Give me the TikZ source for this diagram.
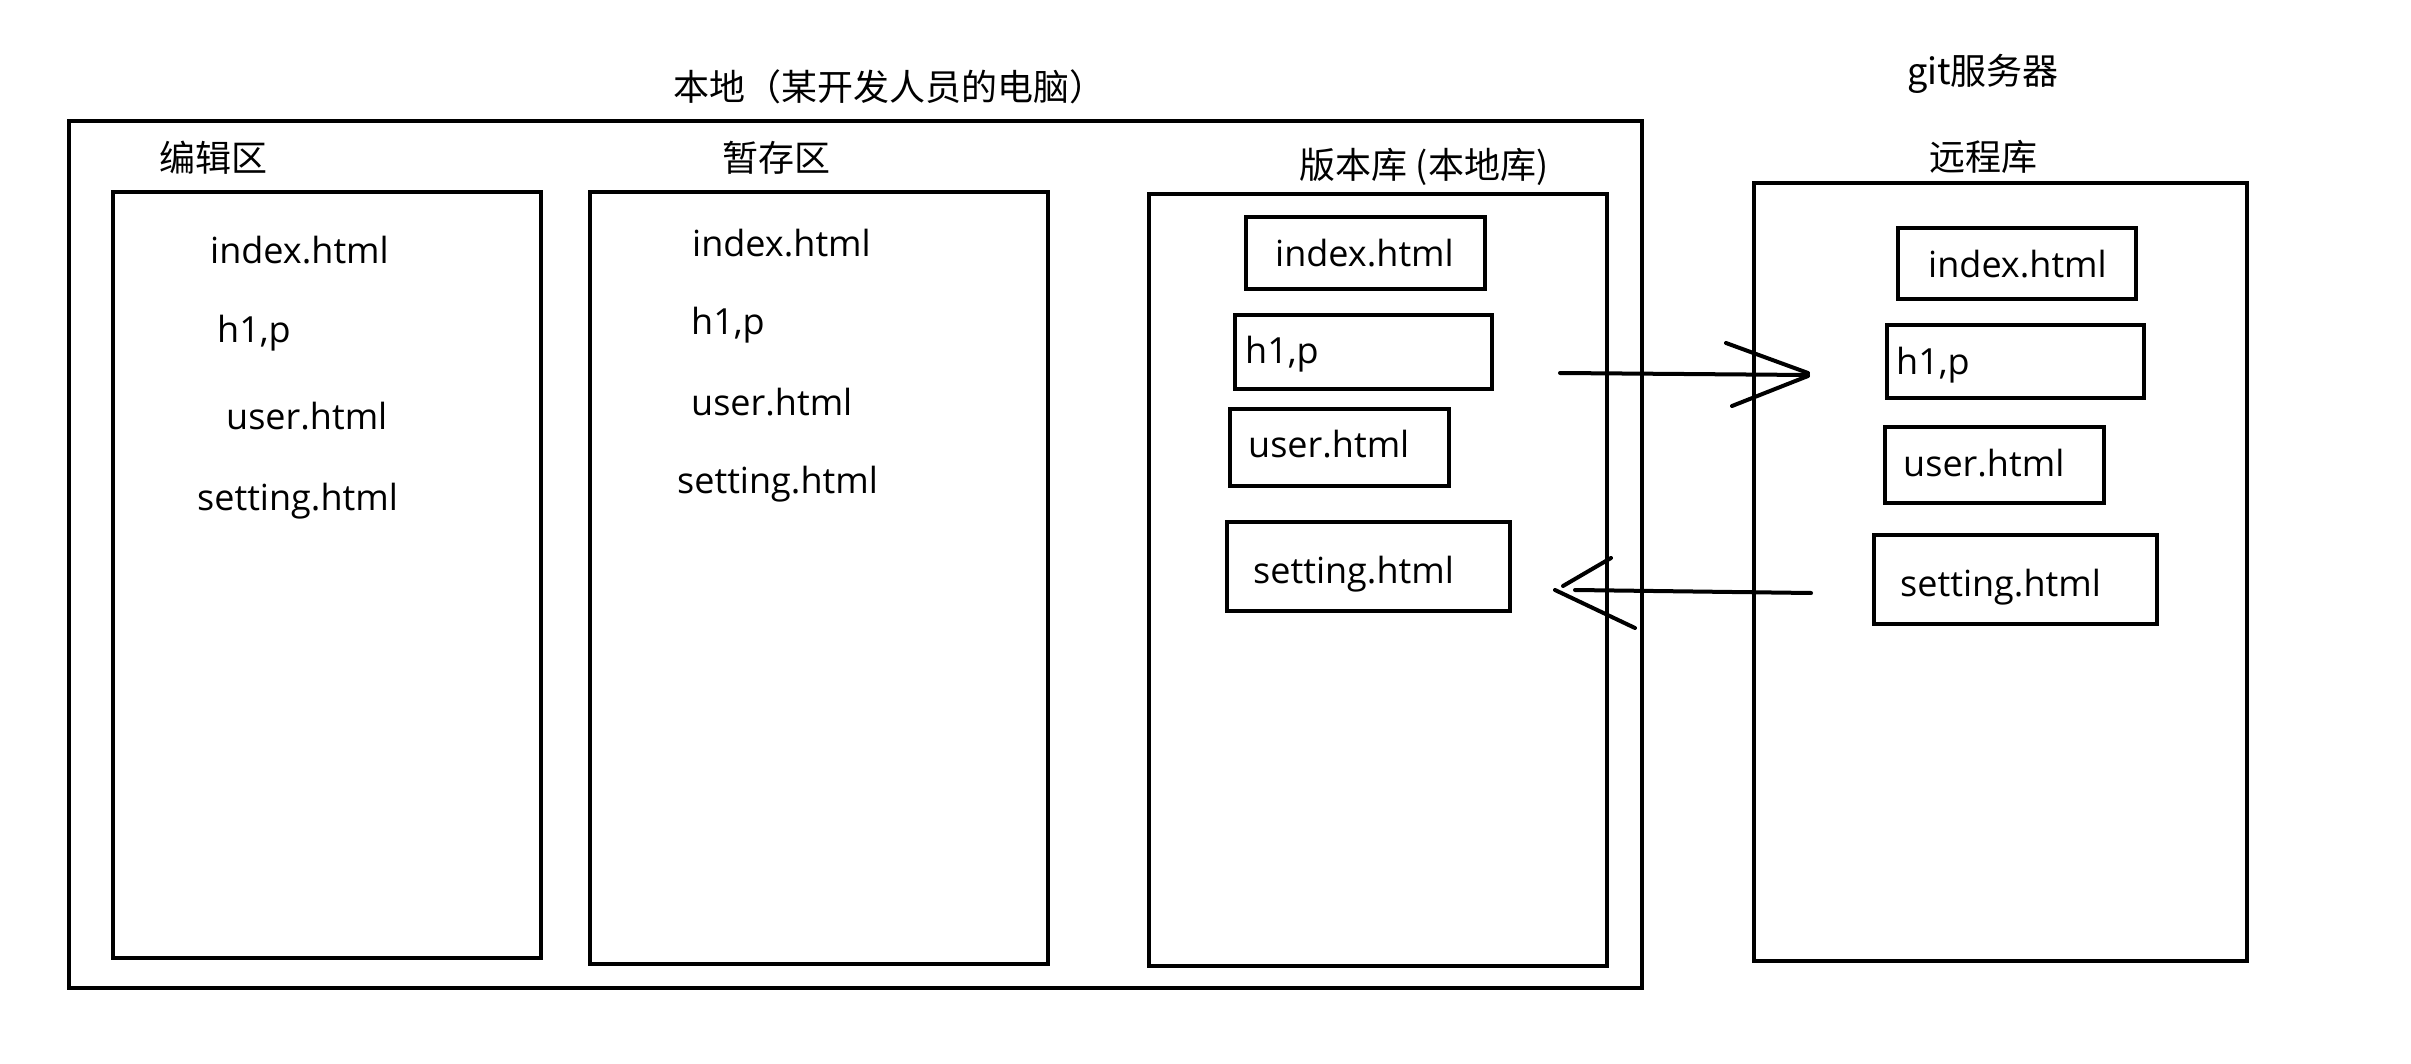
\documentclass[tikz,border=0pt]{standalone}
\usepackage{fontspec}
\setmainfont{Open Sans}
\newfontfamily\cjk{Noto Sans CJK SC}
\begin{document}
\begin{tikzpicture}[x=1pt,y=-1pt,
  pane/.style={draw=black, line width=4pt, inner sep=0pt, outer sep=0pt, anchor=north west},
  fname/.style={inner sep=0pt, anchor=base west, font=\fontsize{36}{40}\selectfont},
  head/.style={inner sep=0pt, anchor=center, font=\cjk\fontsize{36}{40}\selectfont},
  stroke/.style={line width=4pt, line cap=round}]
\useasboundingbox[fill=white] (0,0) rectangle (2411,1064);

% big containers
\node[pane, minimum width=1573pt, minimum height=867pt] (local) at (69,121) {};
\node[pane, minimum width=428pt, minimum height=766pt] (edit) at (113,192) {};
\node[pane, minimum width=458pt, minimum height=772pt] (stage) at (590,192) {};
\node[pane, minimum width=458pt, minimum height=772pt] (repo) at (1149,194) {};
\node[pane, minimum width=493pt, minimum height=778pt] (remote) at (1754,183) {};

% headings
\node[head] (tlocal) at (889,87) {本地（某开发人员的电脑）};
\node[head] (tedit) at (213,158) {编辑区};
\node[head] (tstage) at (776,158) {暂存区};
\node[head] (trepo) at (1424,167) {版本库 (本地库)};
\node[head] (tserver) at (1983,74) {git服务器};
\node[head] (tremote) at (1983,157) {远程库};

% edit area files
\node[fname] (e1) at (210,264) {index.html};
\node[fname] (e2) at (217,342) {h1,p};
\node[fname] (e3) at (226,429) {user.html};
\node[fname] (e4) at (197,510) {setting.html};

% stage area files
\node[fname] (s1) at (692,257) {index.html};
\node[fname] (s2) at (691,335) {h1,p};
\node[fname] (s3) at (691,415) {user.html};
\node[fname] (s4) at (677,493) {setting.html};

% local repo file boxes
\node[pane, minimum width=239pt, minimum height=72pt] (lb1) at (1246,217) {};
\node[pane, minimum width=257pt, minimum height=74pt] (lb2) at (1235,315) {};
\node[pane, minimum width=219pt, minimum height=77pt] (lb3) at (1230,409) {};
\node[pane, minimum width=283pt, minimum height=89pt] (lb4) at (1227,522) {};
\node[fname] (l1) at (1275,267) {index.html};
\node[fname] (l2) at (1245,363) {h1,p};
\node[fname] (l3) at (1248,457) {user.html};
\node[fname] (l4) at (1253,583) {setting.html};

% remote repo file boxes
\node[pane, minimum width=238pt, minimum height=71pt] (rb1) at (1898,228) {};
\node[pane, minimum width=257pt, minimum height=73pt] (rb2) at (1887,325) {};
\node[pane, minimum width=219pt, minimum height=76pt] (rb3) at (1885,427) {};
\node[pane, minimum width=283pt, minimum height=89pt] (rb4) at (1874,535) {};
\node[fname] (r1) at (1928,278) {index.html};
\node[fname] (r2) at (1896,374) {h1,p};
\node[fname] (r3) at (1903,476) {user.html};
\node[fname] (r4) at (1900,596) {setting.html};

% push arrow (hand drawn)
\coordinate (pushA) at (1560,373);
\coordinate (pushB) at (1808,375);
\coordinate (pushH1) at (1726,343);
\coordinate (pushH2) at (1732,406);
\draw[stroke] (pushA) -- (pushB);
\draw[stroke] (pushH1) -- (1808,373);
\draw[stroke] (pushH2) -- (1808,376);

% pull arrow (hand drawn)
\coordinate (pullA) at (1811,593);
\coordinate (pullB) at (1575,590);
\coordinate (pullH1) at (1611,558);
\coordinate (pullH2) at (1635,628);
\draw[stroke] (pullA) -- (pullB);
\draw[stroke] (pullH1) -- (1563,586);
\draw[stroke] (pullH2) -- (1555,590);
\end{tikzpicture}
\end{document}
